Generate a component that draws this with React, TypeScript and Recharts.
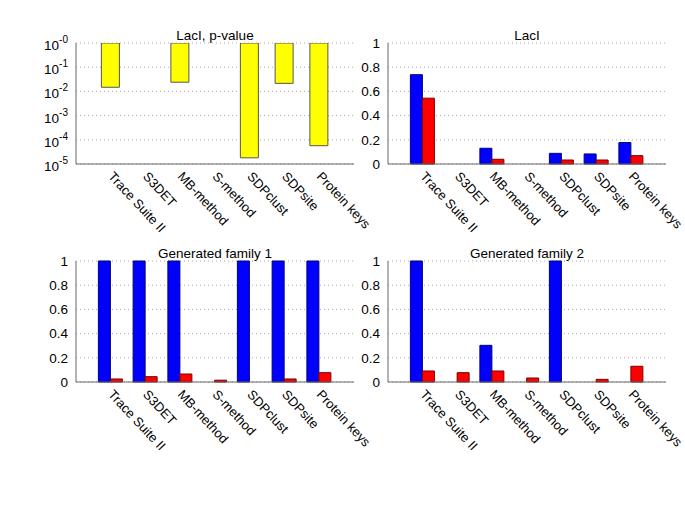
import { Bar, BarChart, CartesianGrid, XAxis, YAxis } from 'recharts';

const methods = [
  'Trace Suite II',
  'S3DET',
  'MB-method',
  'S-method',
  'SDPclust',
  'SDPsite',
  'Protein keys',
];

// p-values, LacI (no bar for S3DET and S-method)
const laciPValue = [0.0148, null, 0.024, null, 1.8e-5, 0.0215, 5.7e-5];

const laciBlue = [0.738, 0, 0.13, 0, 0.088, 0.083, 0.177];
const laciRed = [0.544, 0, 0.039, 0, 0.033, 0.033, 0.069];

const fam1Blue = [1, 1, 1, 0, 1, 1, 1];
const fam1Red = [0.025, 0.044, 0.066, 0.015, 0, 0.025, 0.077];

const fam2Blue = [1, 0, 0.303, 0, 1, 0, 0];
const fam2Red = [0.091, 0.077, 0.091, 0.033, 0, 0.022, 0.13];

const linearTicks = [0, 0.2, 0.4, 0.6, 0.8, 1];
const logTicks = [1, 0.1, 0.01, 0.001, 0.0001, 0.00001];
const logTickExponents = ['-0', '-1', '-2', '-3', '-4', '-5'];

const FONT = '"Liberation Sans", Arial, sans-serif';
const FRAME = '#666';

const pvalueData = methods.map((m, i) => ({
  name: m,
  pv: laciPValue[i] == null ? null : [laciPValue[i], 1],
}));
const laciData = methods.map((m, i) => ({ name: m, blue: laciBlue[i], red: laciRed[i] }));
const fam1Data = methods.map((m, i) => ({ name: m, blue: fam1Blue[i], red: fam1Red[i] }));
const fam2Data = methods.map((m, i) => ({ name: m, blue: fam2Blue[i], red: fam2Red[i] }));

function MethodTick(props: any) {
  const { x, y, payload } = props;
  return (
    <g transform={`translate(${x},${y + 10})`}>
      <text
        transform="rotate(47)"
        textAnchor="start"
        dominantBaseline="central"
        fontSize={13}
        fontFamily={FONT}
        fill="#000"
      >
        {payload.value}
      </text>
    </g>
  );
}

function LogTick(props: any) {
  const { x, y, index } = props;
  return (
    <text x={x} y={y} textAnchor="end" fontSize={13.5} fontFamily={FONT} fill="#000">
      <tspan dy={7}>10</tspan>
      <tspan dy={-7} fontSize={10}>
        {logTickExponents[index]}
      </tspan>
    </text>
  );
}

const W = 278; // plot width
const H = 121; // plot height
const PAD = W / 16;
const CH = 250; // chart height
const XH = 86; // x axis (label) height

function Title({ text, x }: { text: string; x: number }) {
  return (
    <div
      style={{
        position: 'absolute',
        left: x,
        width: W,
        top: 43 - 14,
        textAlign: 'center',
        fontSize: 13.5,
        lineHeight: '13px',
        fontFamily: FONT,
      }}
    >
      {text}
    </div>
  );
}

function PairChart({
  data,
  title,
  left,
  top,
  width,
}: {
  data: { name: string; blue: number; red: number }[];
  title: string;
  left: number;
  top: number;
  width: number;
}) {
  const plotLeft = left < 300 ? 76 : 388;
  const mLeft = plotLeft - left - 40;
  return (
    <div style={{ position: 'absolute', left, top }}>
      <Title text={title} x={plotLeft - left} />
      <BarChart
        width={width}
        height={CH}
        data={data}
        margin={{ top: 43, left: mLeft, right: width - mLeft - 40 - W, bottom: CH - 43 - H - XH }}
        barGap={0}
        barSize={12}
      >
        <CartesianGrid vertical={false} stroke="#aaa" strokeDasharray="1 3" />
        <XAxis
          dataKey="name"
          interval={0}
          padding={{ left: PAD, right: PAD }}
          tick={<MethodTick />}
          tickLine={false}
          tickSize={0}
          tickMargin={0}
          height={XH}
          axisLine={{ stroke: FRAME }}
        />
        <XAxis
          xAxisId="top"
          dataKey="name"
          orientation="top"
          height={0}
          tick={false}
          tickLine={false}
          axisLine={{ stroke: FRAME }}
        />
        <YAxis
          type="number"
          domain={[0, 1]}
          ticks={linearTicks}
          width={40}
          tickLine={false}
          tickSize={0}
          tickMargin={8}
          tick={{ fontSize: 13.5, fontFamily: FONT, fill: '#000' }}
          axisLine={{ stroke: FRAME }}
        />
        <YAxis
          yAxisId="r"
          orientation="right"
          type="number"
          domain={[0, 1]}
          width={0}
          tick={false}
          tickLine={false}
          axisLine={{ stroke: FRAME }}
        />
        <Bar dataKey="blue" fill="#0000ff" stroke="#00007a" strokeWidth={1} isAnimationActive={false} />
        <Bar dataKey="red" fill="#ff0000" stroke="#7a0000" strokeWidth={1} isAnimationActive={false} />
      </BarChart>
    </div>
  );
}

function PValueChart({ left, top, width }: { left: number; top: number; width: number }) {
  const plotLeft = 76;
  const mLeft = plotLeft - left - 40;
  return (
    <div style={{ position: 'absolute', left, top }}>
      <Title text="LacI, p-value" x={plotLeft - left} />
      <BarChart
        width={width}
        height={CH}
        data={pvalueData}
        margin={{ top: 43, left: mLeft, right: width - mLeft - 40 - W, bottom: CH - 43 - H - XH }}
        barSize={18}
      >
        <CartesianGrid vertical={false} stroke="#aaa" strokeDasharray="1 3" />
        <XAxis
          dataKey="name"
          interval={0}
          padding={{ left: PAD, right: PAD }}
          tick={<MethodTick />}
          tickLine={false}
          tickSize={0}
          tickMargin={0}
          height={XH}
          axisLine={{ stroke: FRAME }}
        />
        <XAxis
          xAxisId="top"
          dataKey="name"
          orientation="top"
          height={0}
          tick={false}
          tickLine={false}
          axisLine={{ stroke: FRAME }}
        />
        <YAxis
          type="number"
          scale="log"
          domain={[1e-5, 1]}
          ticks={logTicks}
          allowDataOverflow
          width={40}
          tickLine={false}
          tickSize={0}
          tickMargin={8}
          tick={<LogTick />}
          axisLine={{ stroke: FRAME }}
        />
        <YAxis
          yAxisId="r"
          orientation="right"
          type="number"
          domain={[0, 1]}
          width={0}
          tick={false}
          tickLine={false}
          axisLine={{ stroke: FRAME }}
        />
        <Bar dataKey="pv" fill="#ffff00" stroke="#555" strokeWidth={1} isAnimationActive={false} />
      </BarChart>
    </div>
  );
}

export default function App() {
  return (
    <div
      style={{
        position: 'absolute',
        left: 0,
        top: 0,
        width: 685,
        height: 529,
        overflow: 'hidden',
        background: '#fff',
        fontFamily: FONT,
      }}
    >
      <PValueChart left={0} top={0} width={420} />
      <PairChart data={laciData} title="LacI" left={345} top={0} width={340} />
      <PairChart data={fam1Data} title="Generated family 1" left={0} top={218} width={420} />
      <PairChart data={fam2Data} title="Generated family 2" left={345} top={218} width={340} />
    </div>
  );
}
